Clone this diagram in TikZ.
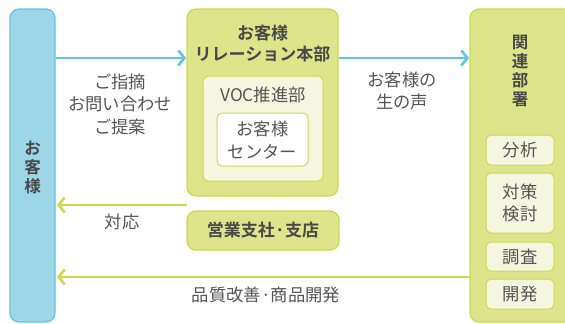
\documentclass[tikz,border=0pt]{standalone}
\usepackage{fontspec}
\setmainfont{Noto Sans CJK JP}
\newfontfamily\jpbold{Noto Sans CJK JP Bold}
\usetikzlibrary{arrows.meta}
\definecolor{bluefill}{HTML}{9DD6E6}
\definecolor{blueline}{HTML}{62C4E0}
\definecolor{grnfill}{HTML}{DDE48A}
\definecolor{grnline}{HTML}{CCD850}
\definecolor{paleg}{HTML}{F4F6E0}
\definecolor{txt}{HTML}{555555}
\tikzset{
  x=1pt, y=-1pt,
  box/.style={draw=#1, line width=1.2pt, rounded corners=9pt},
  inbox/.style={draw=grnline, line width=1pt, rounded corners=5pt},
  lbl/.style={text=txt, font=\fontsize{17.3}{22.5}\selectfont, align=center, inner sep=0pt},
  blbl/.style={text=txt!85!black, font=\jpbold\fontsize{17}{21}\selectfont, align=center, inner sep=0pt},
  vlbl/.style={text=txt!85!black, font=\jpbold\fontsize{16.5}{19}\selectfont, align=center, inner sep=0pt},
  barrow/.style={draw=blueline, line width=2.6pt, -{Straight Barb[length=6pt,width=15pt,line width=2.6pt]}},
  garrow/.style={draw=grnline, line width=2.6pt, -{Straight Barb[length=6pt,width=15pt,line width=2.6pt]}},
}
\begin{document}
\begin{tikzpicture}
\useasboundingbox (0,0) rectangle (565,324);
% left customer column
\path[box=blueline, fill=bluefill] (10,9) rectangle (55,322);
\node[vlbl] (cust) at (32.5,168) {お\\客\\様};
\coordinate (custR1) at (56,58);
\coordinate (custR2) at (57,205);
\coordinate (custR3) at (57,277);
% middle HQ
\path[box=grnline, fill=grnfill] (187,9) rectangle (338,196);
\node[blbl] (hq) at (262.5,44) {お客様\\リレーション本部};
\path[inbox, fill=paleg] (203,76) rectangle (323,181);
\node[lbl] (voc) at (263,95) {VOC推進部};
\path[inbox, fill=white] (217,113) rectangle (308,166);
\node[lbl] (center) at (262.5,140) {お客様\\センター};
\coordinate (hqL) at (186,58);
\coordinate (hqR) at (339,58);
\coordinate (hqB) at (187,205);
% branch
\path[box=grnline, fill=grnfill] (187,211) rectangle (339,250);
\node[blbl] (branch) at (263,230.5) {営業支社·支店};
% right departments
\path[box=grnline, fill=grnfill] (470,9) rectangle (575,322);
\node[vlbl] (dept) at (520,71) {関\\連\\部\\署};
\coordinate (deptL) at (469,58);
\coordinate (deptB) at (471,277);
\path[inbox, fill=paleg] (486,135) rectangle (554,165);
\node[lbl] (d1) at (520,150) {分析};
\path[inbox, fill=paleg] (486,173) rectangle (554,233);
\node[lbl] (d2) at (520,203) {対策\\検討};
\path[inbox, fill=paleg] (486,242) rectangle (554,271);
\node[lbl] (d3) at (520,256.5) {調査};
\path[inbox, fill=paleg] (486,279) rectangle (554,309);
\node[lbl] (d4) at (520,294) {開発};
% arrows
\draw[barrow] (custR1) -- (hqL);
\draw[barrow] (hqR) -- (deptL);
\draw[garrow] (hqB) -- (custR2);
\draw[garrow] (deptB) -- (custR3);
% labels
\node[lbl] (l1) at (120,104) {ご指摘\\お問い合わせ\\ご提案};
\node[lbl] (l2) at (402,91) {お客様の\\生の声};
\node[lbl] (l3) at (122,222) {対応};
\node[lbl] (l4) at (266,295) {品質改善·商品開発};
\end{tikzpicture}
\end{document}
